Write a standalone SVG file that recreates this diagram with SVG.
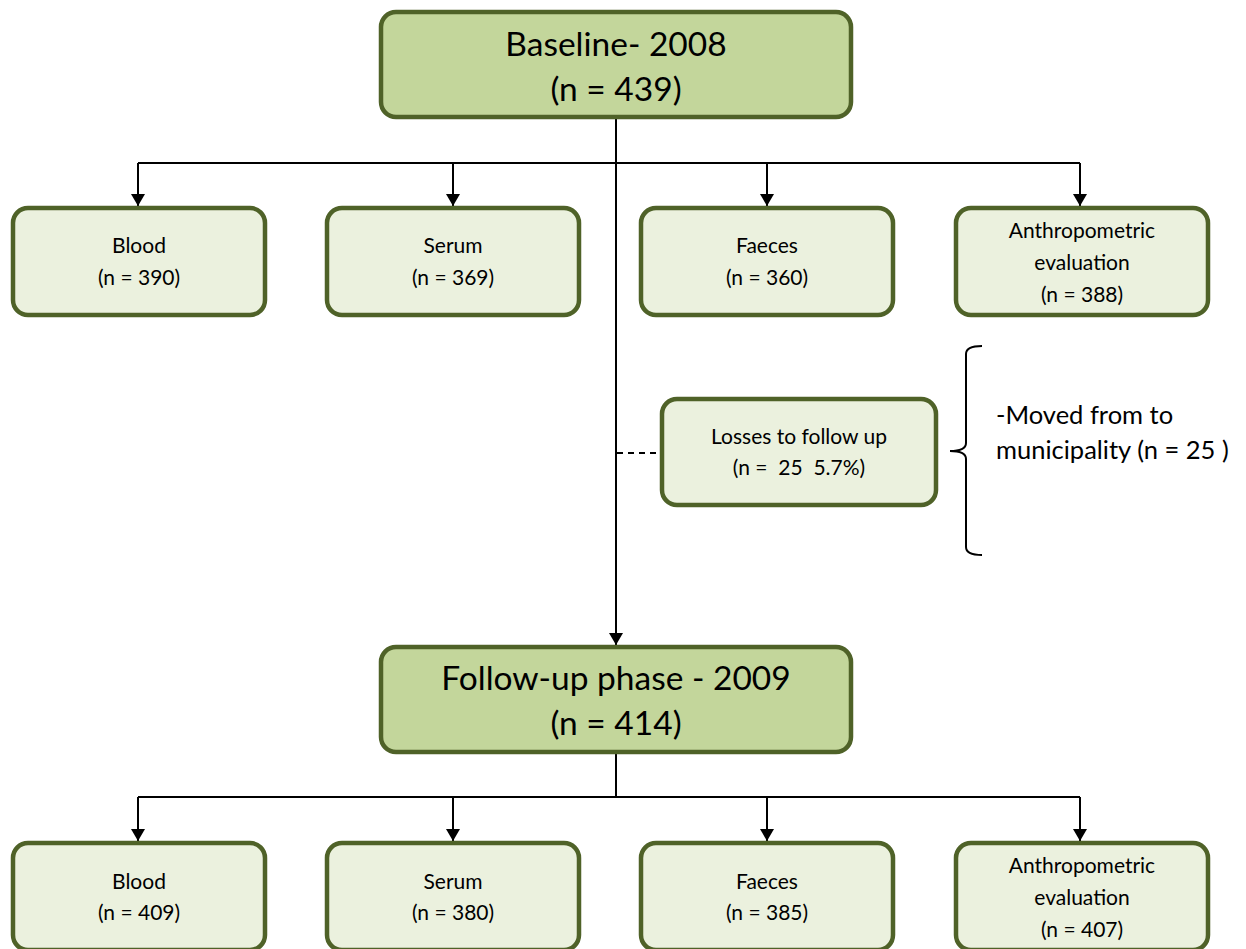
<svg xmlns="http://www.w3.org/2000/svg" width="1246" height="949" viewBox="0 0 1246 949">
<defs>
<style>
.big{fill:#c3d69b;stroke:#4f6228;stroke-width:4.5}
.sm{fill:#ebf1de;stroke:#4f6228;stroke-width:4.5}
text{font-family:Lato,"Open Sans",sans-serif;fill:#000;text-anchor:middle}
.t1{font-size:33.5px}
.t2{font-size:21px}
.t3{font-size:25.5px;text-anchor:start}
.ln{stroke:#000;stroke-width:2;fill:none}
</style>
<marker id="ad" markerWidth="14" markerHeight="14" refX="12" refY="7" orient="auto" markerUnits="userSpaceOnUse" viewBox="0 0 14 14">
<path d="M0,0 L12,7 L0,14 Z" fill="#000"/>
</marker>
</defs>
<rect width="1246" height="949" fill="#fff"/>
<g id="connectors">
<path class="ln" d="M616,117 V645" marker-end="url(#ad)"/>
<path class="ln" d="M138,163 H1080"/>
<path class="ln" d="M138,163 V206" marker-end="url(#ad)"/>
<path class="ln" d="M453,163 V206" marker-end="url(#ad)"/>
<path class="ln" d="M767,163 V206" marker-end="url(#ad)"/>
<path class="ln" d="M1080,163 V206" marker-end="url(#ad)"/>
<path class="ln" d="M617,453 H662" stroke-dasharray="6,5" stroke-width="1.5"/>
<path class="ln" d="M616,752 V797 M138,797 H1080"/>
<path class="ln" d="M138,797 V841" marker-end="url(#ad)"/>
<path class="ln" d="M453,797 V841" marker-end="url(#ad)"/>
<path class="ln" d="M767,797 V841" marker-end="url(#ad)"/>
<path class="ln" d="M1080,797 V841" marker-end="url(#ad)"/>
</g>
<g id="baseline">
<rect class="big" x="381" y="12" width="470" height="105" rx="15"/>
<text class="t1" x="616" y="56">Baseline- 2008</text>
<text class="t1" x="616" y="101">(n = 439)</text>
</g>
<g id="blood1"><rect class="sm" x="13" y="208" width="252" height="107" rx="15"/>
<text class="t2" x="139" y="253">Blood</text><text class="t2" x="139" y="285">(n = 390)</text></g>
<g id="serum1"><rect class="sm" x="327" y="208" width="252" height="107" rx="15"/>
<text class="t2" x="453" y="253">Serum</text><text class="t2" x="453" y="285">(n = 369)</text></g>
<g id="faeces1"><rect class="sm" x="641" y="208" width="252" height="107" rx="15"/>
<text class="t2" x="767" y="253">Faeces</text><text class="t2" x="767" y="285">(n = 360)</text></g>
<g id="anthro1"><rect class="sm" x="956" y="208" width="252" height="107" rx="15"/>
<text class="t2" x="1082" y="238">Anthropometric</text><text class="t2" x="1082" y="270">evaluation</text><text class="t2" x="1082" y="302">(n = 388)</text></g>
<g id="losses"><rect class="sm" x="662" y="399" width="274" height="106" rx="15"/>
<text class="t2" x="799" y="444">Losses to follow up</text><text class="t2" x="799" y="475" xml:space="preserve">(n =  25  5.7%)</text></g>
<g id="bracket">
<path class="ln" stroke-width="1.5" d="M982,346 Q966,346 966,354 V443 Q966,451 950,451 Q966,451 966,459 V547 Q966,555 982,555"/>
<text class="t3" x="996" y="424">-Moved from to</text>
<text class="t3" x="996" y="459">municipality (n = 25 )</text>
</g>
<g id="followup">
<rect class="big" x="381" y="647" width="470" height="105" rx="15"/>
<text class="t1" x="616" y="690">Follow-up phase - 2009</text>
<text class="t1" x="616" y="735">(n = 414)</text>
</g>
<g id="blood2"><rect class="sm" x="13" y="843" width="252" height="107" rx="15"/>
<text class="t2" x="139" y="889">Blood</text><text class="t2" x="139" y="920">(n = 409)</text></g>
<g id="serum2"><rect class="sm" x="327" y="843" width="252" height="107" rx="15"/>
<text class="t2" x="453" y="889">Serum</text><text class="t2" x="453" y="920">(n = 380)</text></g>
<g id="faeces2"><rect class="sm" x="641" y="843" width="252" height="107" rx="15"/>
<text class="t2" x="767" y="889">Faeces</text><text class="t2" x="767" y="920">(n = 385)</text></g>
<g id="anthro2"><rect class="sm" x="956" y="843" width="252" height="107" rx="15"/>
<text class="t2" x="1082" y="873">Anthropometric</text><text class="t2" x="1082" y="905">evaluation</text><text class="t2" x="1082" y="937">(n = 407)</text></g>
</svg>
